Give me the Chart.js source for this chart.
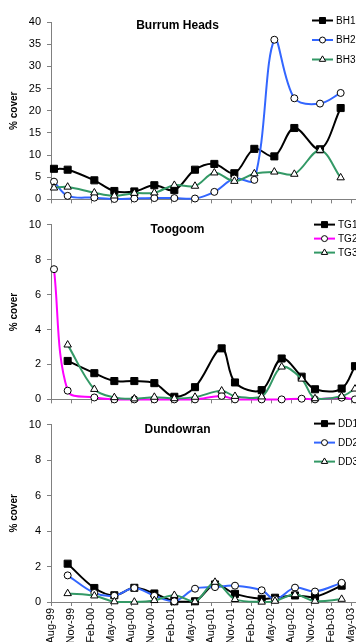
<!DOCTYPE html>
<html>
<head>
<meta charset="utf-8">
<script src="https://cdn.jsdelivr.net/npm/chart.js@4.4.0/dist/chart.umd.min.js"></script>
<style>
    html, body { margin: 0; padding: 0; background: #fff; }
    body { width: 356px; height: 642px; overflow: hidden; position: relative; }
    canvas { position: absolute; left: 0; }
</style>
</head>
<body>
<canvas id="bh" width="400" height="212" style="top:0px"></canvas>
<canvas id="tg" width="400" height="200" style="top:212px"></canvas>
<canvas id="dd" width="400" height="280" style="top:412px"></canvas>
<script>
// survey dates as months after 1 Aug 1999
const bhMonths = [0.45, 2.5, 6.5, 9.5, 12.5, 15.5, 18.5, 21.6, 24.5, 27.5, 30.5, 33.5, 36.5, 40.35, 43.45];
const bh1 = [6.9, 6.7, 4.3, 1.9, 1.8, 3.2, 2.1, 6.7, 8.0, 5.9, 11.4, 9.7, 16.1, 11.3, 20.6];
const bh2 = [4.0, 0.8, 0.4, 0.1, 0.2, 0.3, 0.3, 0.2, 1.7, 4.7, 4.4, 36.0, 22.8, 21.6, 24.0];
const bh3 = [2.6, 2.8, 1.5, 0.8, 1.4, 1.5, 3.2, 3.0, 6.0, 4.1, 5.8, 6.2, 5.7, 11.1, 4.9];

const tgMonths = [0.45, 2.5, 6.5, 9.5, 12.5, 15.5, 18.5, 21.6, 25.6, 27.6, 31.6, 34.6, 37.6, 39.6, 43.6, 45.6];
const tg1 = [null, 2.2, 1.5, 1.05, 1.05, 0.93, 0.15, 0.7, 2.92, 0.97, 0.53, 2.34, 1.3, 0.58, 0.62, 1.9];
const tg2 = [7.45, 0.5, 0.11, 0, 0, 0, 0, 0, 0.2, 0, 0, 0, 0.04, 0, 0.1, 0];
const tg3 = [null, 3.12, 0.58, 0.11, 0.04, 0.13, 0.05, 0.13, 0.49, 0.18, 0.15, 1.86, 1.17, 0.05, 0.18, 0.6];

const ddMonths = [2.5, 6.5, 9.5, 12.5, 15.5, 18.5, 21.6, 24.6, 27.6, 31.6, 33.6, 36.6, 39.6, 43.6];
const dd1 = [2.16, 0.79, 0.38, 0.8, 0.48, 0.04, 0.04, 0.99, 0.46, 0.18, 0.24, 0.37, 0.29, 0.92];
const dd2 = [1.5, 0.51, 0.35, 0.79, 0.35, 0.04, 0.75, 0.84, 0.92, 0.66, 0.15, 0.81, 0.59, 1.08];
const dd3 = [0.48, 0.35, 0.02, 0, 0.09, 0.38, 0.02, 1.12, 0.15, 0, 0.05, 0.42, 0.05, 0.16];

const quarterLabels = ['Aug-99', 'Nov-99', 'Feb-00', 'May-00', 'Aug-00', 'Nov-00', 'Feb-01', 'May-01',
    'Aug-01', 'Nov-01', 'Feb-02', 'May-02', 'Aug-02', 'Nov-02', 'Feb-03', 'May-03', 'Aug-03'];

const FONT = '"Liberation Sans", Arial, sans-serif';
Chart.defaults.color = '#000';
Chart.defaults.font.family = FONT;

// marker looks for series 1, 2, 3
const markers = [
    { pointStyle: 'rect', pointRadius: 5, pointBackgroundColor: '#000' },
    { pointStyle: 'circle', pointRadius: 3.5, pointBackgroundColor: '#fff' },
    { pointStyle: 'triangle', pointRadius: 4.3, pointBackgroundColor: '#fff' },
];

function drawMarker(ctx, style, r, x, y) {
    ctx.beginPath();
    if (style === 'rect') {
        const s = r * Math.SQRT1_2;
        ctx.rect(x - s, y - s, 2 * s, 2 * s);
    } else if (style === 'circle') {
        ctx.arc(x, y, r, 0, Math.PI * 2);
    } else {
        for (let k = 0; k < 3; k++) {
            const a = k * 2 * Math.PI / 3;
            ctx[k ? 'lineTo' : 'moveTo'](x + Math.sin(a) * r, y - Math.cos(a) * r);
        }
        ctx.closePath();
    }
    ctx.fill();
    ctx.stroke();
}

// panel title and legend sit inside the plot area
const panelDecor = {
    id: 'panelDecor',
    afterDraw(chart, args, opts) {
        const { ctx, chartArea } = chart;
        ctx.save();
        ctx.fillStyle = '#000';
        ctx.font = 'bold 12px ' + FONT;
        ctx.textAlign = 'center';
        ctx.textBaseline = 'middle';
        ctx.fillText(opts.title, 177.5, chartArea.top + opts.titleDy);

        ctx.font = '10px ' + FONT;
        ctx.textAlign = 'left';
        chart.data.datasets.forEach((ds, i) => {
            const y = chartArea.top + opts.legendDy + i * opts.legendGap;
            const x0 = opts.legendX;
            ctx.strokeStyle = ds.borderColor;
            ctx.lineWidth = 2;
            ctx.beginPath();
            ctx.moveTo(x0, y);
            ctx.lineTo(x0 + 21, y);
            ctx.stroke();
            ctx.fillStyle = ds.pointBackgroundColor;
            ctx.strokeStyle = '#000';
            ctx.lineWidth = 1;
            drawMarker(ctx, ds.pointStyle, ds.pointRadius * 0.85, x0 + 10.5, y);
            ctx.fillStyle = '#000';
            ctx.fillText(ds.label, x0 + 24, y + 0.5);
        });
        ctx.restore();
    }
};

function makePanel(id, cfg) {
    const datasets = cfg.series.map((s, i) => ({
        label: s.label,
        data: cfg.months.map((m, j) => ({ x: m, y: s.values[j] })),
        borderColor: s.color,
        borderWidth: 2,
        pointBorderColor: '#000',
        pointBorderWidth: 1,
        pointHoverRadius: markers[i].pointRadius,
        tension: 0.35,
        clip: 6,
        order: 2 - i,
        ...markers[i],
    }));

    return new Chart(document.getElementById(id), {
        type: 'line',
        data: { datasets },
        plugins: [panelDecor],
        options: {
            responsive: false,
            animation: false,
            devicePixelRatio: 1,
            layout: { padding: { top: cfg.padTop, right: 29, bottom: 0, left: 0 } },
            plugins: {
                legend: { display: false },
                tooltip: { enabled: false },
                panelDecor: cfg.decor,
            },
            scales: {
                x: {
                    type: 'linear',
                    min: 0,
                    max: 48,
                    afterFit: (scale) => { scale.height = cfg.xHeight; },
                    border: { display: true, color: '#808080', width: 1 },
                    grid: { drawOnChartArea: false, drawTicks: true, tickLength: 4, color: '#808080' },
                    ticks: {
                        display: cfg.showDates,
                        stepSize: 3,
                        autoSkip: false,
                        minRotation: 90,
                        maxRotation: 90,
                        padding: 2,
                        font: { size: 11 },
                        callback: (value) => quarterLabels[Math.round(value / 3)] || '',
                    },
                },
                y: {
                    min: 0,
                    max: cfg.yMax,
                    afterFit: (scale) => { scale.width = 51; },
                    border: { display: true, color: '#808080', width: 1 },
                    grid: { drawOnChartArea: false, drawTicks: true, tickLength: 4, color: '#808080' },
                    ticks: { stepSize: cfg.yStep, padding: 6, font: { size: 11 } },
                    title: {
                        display: true,
                        text: '% cover',
                        font: { size: 10, weight: 'bold' },
                        padding: { top: 8, bottom: 0 },
                    },
                },
            },
        },
    });
}

const BLUE = '#3366FF';
const GREEN = '#339966';

makePanel('bh', {
    months: bhMonths,
    series: [
        { label: 'BH1', values: bh1, color: '#000000' },
        { label: 'BH2', values: bh2, color: BLUE },
        { label: 'BH3', values: bh3, color: GREEN },
    ],
    yMax: 40, yStep: 5, padTop: 22, xHeight: 9, showDates: false,
    decor: { title: 'Burrum Heads', titleDy: 4, legendX: 312, legendDy: -1.5, legendGap: 19.5 },
});

makePanel('tg', {
    months: tgMonths,
    series: [
        { label: 'TG1', values: tg1, color: '#000000' },
        { label: 'TG2', values: tg2, color: '#FF00FF' },
        { label: 'TG3', values: tg3, color: GREEN },
    ],
    yMax: 10, yStep: 2, padTop: 8, xHeight: 9, showDates: false,
    decor: { title: 'Toogoom', titleDy: 5, legendX: 314, legendDy: 0, legendGap: 14 },
});

makePanel('dd', {
    months: ddMonths,
    series: [
        { label: 'DD1', values: dd1, color: '#000000' },
        { label: 'DD2', values: dd2, color: BLUE },
        { label: 'DD3', values: dd3, color: GREEN },
    ],
    yMax: 10, yStep: 2, padTop: 8, xHeight: 90, showDates: true,
    decor: { title: 'Dundowran', titleDy: 5, legendX: 314, legendDy: -1, legendGap: 19 },
});
</script>
</body>
</html>
